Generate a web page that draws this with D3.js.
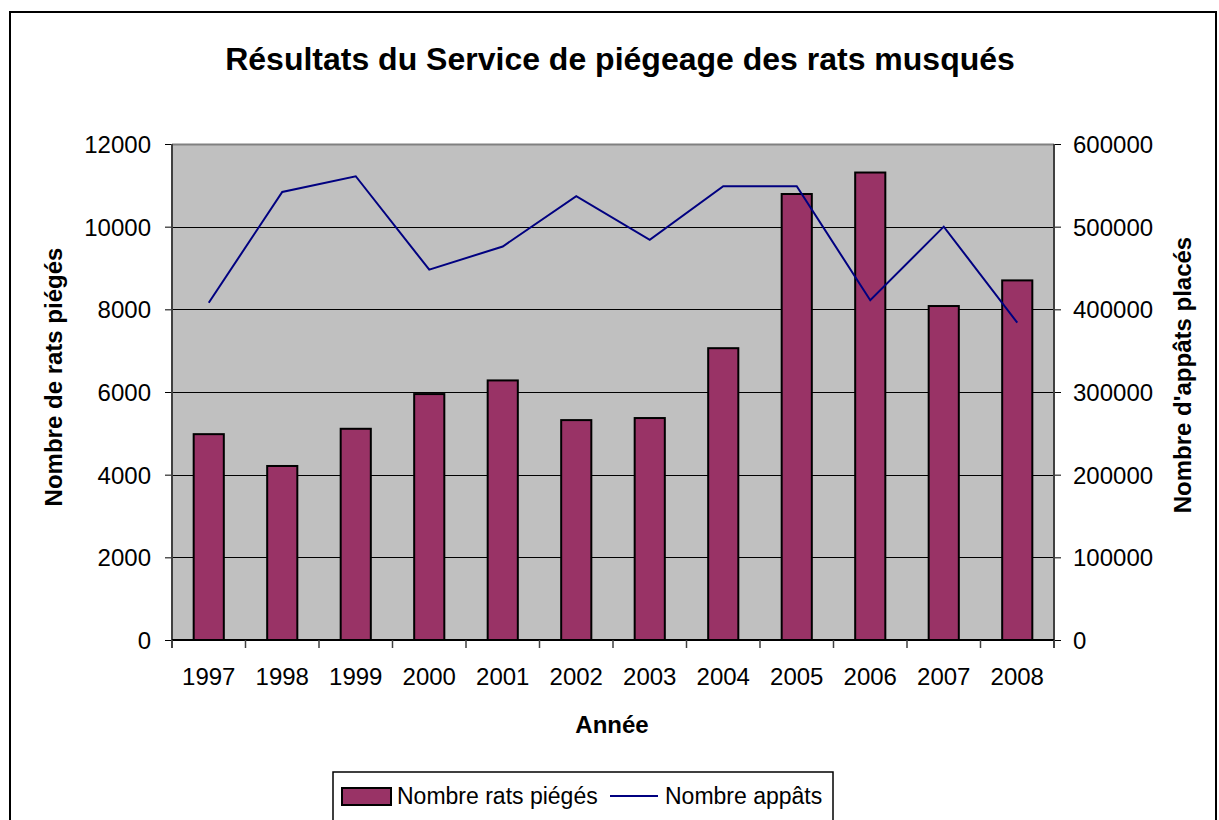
<!DOCTYPE html>
<html>
<head>
<meta charset="utf-8">
<script src="https://cdn.jsdelivr.net/npm/d3@7"></script>
<style>
	body { margin: 0; background: #fff; }
	svg text { font-family: "Liberation Sans", Arial, sans-serif; fill: #000; }
</style>
</head>
<body>
<div class="chart"></div>
<script>
var years = ["1997", "1998", "1999", "2000", "2001", "2002", "2003", "2004", "2005", "2006", "2007", "2008"];
var ratsPieges = [4980, 4210, 5110, 5950, 6280, 5320, 5370, 7060, 10790, 11310, 8080, 8700];
var appats = [408000, 542000, 561000, 448000, 476000, 537000, 484000, 549000, 549000, 411000, 500000, 384000];
var leftTicks = [0, 2000, 4000, 6000, 8000, 10000, 12000];
var rightTicks = [0, 100000, 200000, 300000, 400000, 500000, 600000];

var width = 1219, height = 820;
var plot = {left: 172, right: 1054, top: 144, bottom: 640};

var svg = d3.select(".chart").append("svg")
	.attr("width", width)
	.attr("height", height);

// outer frame
svg.append("rect")
	.attr("x", 10).attr("y", 12)
	.attr("width", 1206).attr("height", 830)
	.style("fill", "#fff")
	.style("stroke", "#000")
	.style("stroke-width", 2);

var x = d3.scaleBand().domain(years).range([plot.left, plot.right]).padding(0);
var yLeft = d3.scaleLinear().domain([0, 12000]).range([plot.bottom, plot.top]);
var yRight = d3.scaleLinear().domain([0, 600000]).range([plot.bottom, plot.top]);

// plot background
svg.append("rect")
	.attr("x", plot.left).attr("y", plot.top)
	.attr("width", plot.right - plot.left).attr("height", plot.bottom - plot.top)
	.style("fill", "#c0c0c0");

svg.append("line")
	.attr("x1", plot.left).attr("x2", plot.right)
	.attr("y1", plot.top + .5).attr("y2", plot.top + .5)
	.style("stroke", "#808080").style("stroke-width", 2);

// gridlines
svg.selectAll("line.grid")
	.data(leftTicks.filter(function(d){ return d > 0 && d < 12000; }))
	.enter().append("line")
	.attr("class", "grid")
	.attr("x1", plot.left).attr("x2", plot.right)
	.attr("y1", function(d){ return Math.round(yLeft(d)) + .5; })
	.attr("y2", function(d){ return Math.round(yLeft(d)) + .5; })
	.style("stroke", "#000");

// left axis
var leftAxis = svg.append("g")
	.attr("transform", "translate(" + plot.left + ",0)")
	.call(d3.axisLeft(yLeft).tickValues(leftTicks).tickSize(7).tickPadding(14).tickFormat(d3.format("d")));
leftAxis.select(".domain").remove();
leftAxis.selectAll("line").style("stroke", "#000");
leftAxis.selectAll("text").style("font-size", "24px").attr("dy", "0.36em");

// right axis
var rightAxis = svg.append("g")
	.attr("transform", "translate(" + plot.right + ",0)")
	.call(d3.axisRight(yRight).tickValues(rightTicks).tickSize(7).tickPadding(12).tickFormat(d3.format("d")));
rightAxis.select(".domain").remove();
rightAxis.selectAll("line").style("stroke", "#000");
rightAxis.selectAll("text").style("font-size", "24px").attr("dy", "0.36em");

// bars
var barW = x.bandwidth() * 0.41;
svg.selectAll("rect.bar")
	.data(ratsPieges)
	.enter().append("rect")
	.attr("class", "bar")
	.attr("x", function(d, i){ return x(years[i]) + (x.bandwidth() - barW) / 2; })
	.attr("y", function(d){ return yLeft(d); })
	.attr("width", barW)
	.attr("height", function(d){ return plot.bottom - yLeft(d); })
	.style("fill", "#993366")
	.style("stroke", "#000")
	.style("stroke-width", 2);

// vertical axis lines
svg.append("line")
	.attr("x1", plot.left).attr("x2", plot.left)
	.attr("y1", plot.top).attr("y2", plot.bottom + 8)
	.style("stroke", "#404040").style("stroke-width", 2);
svg.append("line")
	.attr("x1", plot.right).attr("x2", plot.right)
	.attr("y1", plot.top).attr("y2", plot.bottom + 8)
	.style("stroke", "#404040").style("stroke-width", 2);

// x axis
var xAxis = svg.append("g")
	.attr("transform", "translate(0," + plot.bottom + ")")
	.call(d3.axisBottom(x).tickSize(0).tickPadding(28));
xAxis.select(".domain").style("stroke", "#000").style("stroke-width", 2).attr("d", "M" + plot.left + ",0H" + plot.right);
xAxis.selectAll("text").style("font-size", "24px");

svg.selectAll("line.xtick")
	.data(years.concat(["end"]))
	.enter().append("line")
	.attr("class", "xtick")
	.attr("x1", function(d, i){ return plot.left + i * x.step(); })
	.attr("x2", function(d, i){ return plot.left + i * x.step(); })
	.attr("y1", plot.bottom).attr("y2", plot.bottom + 8)
	.style("stroke", "#404040").style("stroke-width", 1.5);

// line series
var line = d3.line()
	.x(function(d, i){ return x(years[i]) + x.bandwidth() / 2; })
	.y(function(d){ return yRight(d); });

svg.append("path")
	.datum(appats)
	.attr("d", line)
	.style("fill", "none")
	.style("stroke", "#000080")
	.style("stroke-width", 2);

// titles
svg.append("text")
	.attr("x", 620).attr("y", 70)
	.attr("text-anchor", "middle")
	.style("font-size", "32px").style("font-weight", "bold")
	.text("Résultats du Service de piégeage des rats musqués");

svg.append("text")
	.attr("x", 612).attr("y", 733)
	.attr("text-anchor", "middle")
	.style("font-size", "24px").style("font-weight", "bold")
	.text("Année");

svg.append("text")
	.attr("transform", "translate(62,377) rotate(-90)")
	.attr("text-anchor", "middle")
	.style("font-size", "24px").style("font-weight", "bold")
	.text("Nombre de rats piégés");

svg.append("text")
	.attr("transform", "translate(1191,375) rotate(-90)")
	.attr("text-anchor", "middle")
	.style("font-size", "24px").style("font-weight", "bold")
	.text("Nombre d'appâts placés");

// legend
var legend = svg.append("g");
legend.append("rect")
	.attr("x", 333).attr("y", 772)
	.attr("width", 500).attr("height", 70)
	.style("fill", "#fff").style("stroke", "#000").style("stroke-width", 1.5);
legend.append("rect")
	.attr("x", 342).attr("y", 788)
	.attr("width", 49).attr("height", 17)
	.style("fill", "#993366").style("stroke", "#000").style("stroke-width", 2);
legend.append("text")
	.attr("x", 397).attr("y", 804)
	.style("font-size", "23px")
	.text("Nombre rats piégés");
legend.append("line")
	.attr("x1", 610).attr("x2", 658)
	.attr("y1", 796).attr("y2", 796)
	.style("stroke", "#000080").style("stroke-width", 2);
legend.append("text")
	.attr("x", 665).attr("y", 804)
	.style("font-size", "23px")
	.text("Nombre appâts");
</script>
</body>
</html>
